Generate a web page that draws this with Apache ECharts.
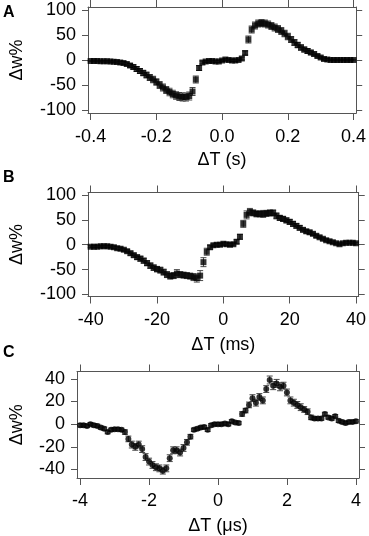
<!DOCTYPE html>
<html><head><meta charset="utf-8">
<script src="https://cdn.jsdelivr.net/npm/echarts@6/dist/echarts.min.js"></script>
<style>html,body{margin:0;padding:0;background:#fff}#c{width:369px;height:536px}</style>
</head><body><div id="c"></div>
<script>
// ---- Panel A (ΔT in s) ----
const xA = [-0.40,-0.39,-0.38,-0.37,-0.36,-0.35,-0.34,-0.33,-0.32,-0.31,
  -0.30,-0.29,-0.28,-0.27,-0.26,-0.25,-0.24,-0.23,-0.22,-0.21,
  -0.20,-0.19,-0.18,-0.17,-0.16,-0.15,-0.14,-0.13,-0.12,-0.11,
  -0.10,-0.09,-0.08,-0.07,-0.06,-0.05,-0.04,-0.03,-0.02,-0.01,
  0.00,0.01,0.02,0.03,0.04,0.05,0.06,0.07,0.08,0.09,
  0.10,0.11,0.12,0.13,0.14,0.15,0.16,0.17,0.18,0.19,
  0.20,0.21,0.22,0.23,0.24,0.25,0.26,0.27,0.28,0.29,
  0.30,0.31,0.32,0.33,0.34,0.35,0.36,0.37,0.38,0.39,0.40];
const yA = [-1,-1,-1,-1.5,-1.5,-1.5,-2,-2.5,-3,-4,
  -5,-7,-10,-13,-17,-21,-25,-29,-34,-38,
  -43,-49,-54,-59,-63,-67,-70,-72,-73,-73,
  -71,-62,-38,-15,-4,-2,-1,-1,-2,-2,
  0,2,1,0,0,1,4,15,42,62,
  70,74,75,74,72,69,66,63,59,54,
  48,42,36,31,26,22,19,16,13,9,
  6,3,2,1,1,1,1,1,1,1,1];
const eA = [1.5,1.5,1.5,1.5,1.5,1.5,1.5,2,2,2.5,
  3,3.5,4,4.5,5,5,5.5,6,6,6.5,
  6.5,7,7,7,7.5,7.5,7.5,8,8,8,
  8,8,7,5,3,2,2,2,2,2,
  2,2,2,2,2,2,3,4,7,7,
  7,7,7,7,7,7,7,7,7,6.5,
  6.5,6,6,5.5,5.5,5,5,4.5,4,3.5,
  3,2.5,2,1.5,1.5,1.5,1.5,1.5,1.5,1.5,1.5];
const ticksXA = [-0.4,-0.2,0,0.2,0.4];
const ticksYA = [-100,-50,0,50,100];

// ---- Panel B (ΔT in ms) ----
const xB = [-40,-39,-38,-37,-36,-35,-34,-33,-32,-31,
  -30,-29,-28,-27,-26,-25,-24,-23,-22,-21,
  -20,-19,-18,-17,-16,-15,-14,-13,-12,-11,
  -10,-9,-8,-7,-6,-5,-4,-3,-2,-1,
  0,1,2,3,4,5,6,7,8,9,
  10,11,12,13,14,15,16,17,18,19,
  20,21,22,23,24,25,26,27,28,29,
  30,31,32,33,34,35,36,37,38,39,40];
const yB = [-4,-4,-4,-3,-3,-3,-4,-5,-7,-8,
  -10,-13,-17,-21,-25,-28,-32,-37,-42,-46,
  -49,-51,-55,-60,-63,-62,-58,-60,-61,-62,
  -63,-65,-67,-62,-35,-14,-5,-1,0,0,
  2,1,0,1,6,16,42,60,66,64,
  62,62,62,63,64,64,58,54,52,49,
  46,42,38,34,30,27,25,22,18,15,
  12,9,7,5,3,1,3,4,4,4,3];
const eB = [2,2,2,2,2,2,2,2.5,3,3,
  3,3.5,4,4,4.5,5,5,5,5.5,5.5,
  5.5,6,6,6,6,6,8,6,6,6,
  6,7,8,10,9,7,4,3,3,3,
  3,3,3,3,4,5,7,8,7,6,
  6,6,7,6,6,6,6,5,5,5,
  5,5,4.5,4.5,4,4,4,3.5,3.5,3,
  3,3,2.5,2.5,2,2,2,2,2,2,2];
const ticksXB = [-40,-20,0,20,40];
const ticksYB = [-100,-50,0,50,100];

// ---- Panel C (ΔT in µs) ----
const xC = [-4.0,-3.9,-3.8,-3.7,-3.6,-3.5,-3.4,-3.3,-3.2,-3.1,
  -3.0,-2.9,-2.8,-2.7,-2.6,-2.5,-2.4,-2.3,-2.2,-2.1,
  -2.0,-1.9,-1.8,-1.7,-1.6,-1.5,-1.4,-1.3,-1.2,-1.1,
  -1.0,-0.9,-0.8,-0.7,-0.6,-0.5,-0.4,-0.3,-0.2,-0.1,
  0.0,0.1,0.2,0.3,0.4,0.5,0.6,0.7,0.8,0.9,
  1.0,1.1,1.2,1.3,1.4,1.5,1.6,1.7,1.8,1.9,
  2.0,2.1,2.2,2.3,2.4,2.5,2.6,2.7,2.8,2.9,
  3.0,3.1,3.2,3.3,3.4,3.5,3.6,3.7,3.8,3.9,4.0];
const yC = [-1,-1,-1.5,0,-1,-1.5,-3,-4,-7,-5,
  -4.5,-4.5,-5,-7,-13,-18,-20,-18,-22,-29,
  -33,-36,-38,-39,-41,-39,-30,-23,-23,-25,
  -21,-16,-11,-5,-4,-3,-2.5,-5,-1,0,
  0,0,0.5,0,2.5,1.5,1,9,12,17,
  23,19,24,21,31,39,34,36,33,34,
  28,21,19,17,15,13,11,6,5,5,
  5,9,6,5,7,3,2,1,2,2,2.5];
const eC = [1.5,1.5,1.5,1.5,1.5,1.5,1.5,1.5,1.5,1.5,
  1.5,1.5,1.5,2,2.5,3,3,3,3,3,
  3,3,3,3,3,3,3,3,3,3,
  3,2.5,2,1.5,1.5,1.5,1.5,1.5,1.5,1.5,
  1.5,1.5,1.5,1.5,1.5,1.5,1.5,2,2,2.5,
  3,3,3,3,3,3.5,3.5,3.5,3.5,3,
  3,3,3,3,3,2.5,2.5,2,1.5,1.5,
  1.5,1.5,1.5,1.5,1.5,1.5,1.5,1.5,1.5,1.5,1.5];
const ticksXC = [-4,-2,0,2,4];
const ticksYC = [-40,-20,0,20,40];

const FONT = 'Liberation Sans, Arial, sans-serif';
const AX = '#555';

const panels = [
  {x:xA,y:yA,e:eA,sym:'rect',ss:6,xt:ticksXA,yt:ticksYA,xr:[-0.408,0.408],yr:[-105,107],
   grid:{left:79,top:7,width:280,height:106},xname:'ΔT (s)',fmt:v=>v.toFixed(1),xm:15,xng:38,yng:62,letter:'A',ly:5},
  {x:xB,y:yB,e:eB,sym:'rect',ss:6,xt:ticksXB,yt:ticksYB,xr:[-40.8,40.8],yr:[-104,105],
   grid:{left:79,top:192.5,width:280,height:104},xname:'ΔT (ms)',fmt:v=>String(v),xm:15,xng:40,yng:62,letter:'B',ly:170},
  {x:xC,y:yC,e:eC,sym:'circle',ss:6,xt:ticksXC,yt:ticksYC,xr:[-4.09,4.09],yr:[-47.5,46.5],
   grid:{left:68,top:371.5,width:291,height:107},xname:'ΔT (μs)',fmt:v=>String(v),xm:14,xng:39,yng:51,letter:'C',ly:345}
];

function errRender(params, api) {
  const x = api.value(0), lo = api.value(1), hi = api.value(2);
  const a = api.coord([x, lo]), b = api.coord([x, hi]);
  const w = 3;
  const st = {stroke:'#333', lineWidth:0.9};
  return {type:'group', children:[
    {type:'line', shape:{x1:a[0],y1:a[1],x2:b[0],y2:b[1]}, style:st},
    {type:'line', shape:{x1:a[0]-w,y1:a[1],x2:a[0]+w,y2:a[1]}, style:st},
    {type:'line', shape:{x1:b[0]-w,y1:b[1],x2:b[0]+w,y2:b[1]}, style:st}
  ]};
}

const grid = [], xAxis = [], yAxis = [], series = [], graphic = [];
panels.forEach((p, i) => {
  grid.push(Object.assign({show:false}, p.grid));
  const lab = {fontSize:18, color:'#000', fontFamily:FONT};
  const xc = {type:'value', gridIndex:i, min:p.xr[0], max:p.xr[1], splitLine:{show:false},
    axisLine:{show:true, onZero:false, lineStyle:{color:AX, width:1}},
    axisTick:{show:true, inside:false, length:7, customValues:p.xt, lineStyle:{color:AX, width:1}}};
  xAxis.push(Object.assign({}, xc, {position:'bottom',
    axisLabel:Object.assign({show:true, customValues:p.xt, formatter:p.fmt, margin:p.xm}, lab),
    name:p.xname, nameLocation:'middle', nameGap:p.xng, nameTextStyle:{fontSize:18, color:'#000', fontFamily:FONT}}));
  xAxis.push(Object.assign({}, xc, {position:'top', axisLabel:{show:false}}));
  const yc = {type:'value', gridIndex:i, min:p.yr[0], max:p.yr[1], splitLine:{show:false},
    axisLine:{show:true, onZero:false, lineStyle:{color:AX, width:1}},
    axisTick:{show:true, inside:false, length:6, customValues:p.yt, lineStyle:{color:AX, width:1}}};
  yAxis.push(Object.assign({}, yc, {position:'left',
    axisLabel:Object.assign({show:true, customValues:p.yt, formatter:v=>String(v), margin:12}, lab),
    name:'Δw%', nameLocation:'middle', nameGap:p.yng, nameTextStyle:{fontSize:18, color:'#000', fontFamily:FONT}}));
  yAxis.push(Object.assign({}, yc, {position:'right', axisLabel:{show:false}}));
  series.push({type:'custom', xAxisIndex:2*i, yAxisIndex:2*i, renderItem:errRender, silent:true, z:1,
    encode:{x:0, y:[1,2]},
    data:p.x.map((x,k)=>[x, p.y[k]-p.e[k], p.y[k]+p.e[k]])});
  series.push({type:'scatter', xAxisIndex:2*i, yAxisIndex:2*i, symbol:p.sym, symbolSize:p.ss, silent:true, z:2,
    itemStyle:{color:'#000'}, data:p.x.map((x,k)=>[x, p.y[k]])});
  graphic.push({type:'text', left:3, top:p.ly, style:{text:p.letter, font:'bold 16px '+FONT, fill:'#000'}});
});

const chart = echarts.init(document.getElementById('c'), null, {renderer:'canvas'});
chart.setOption({animation:false, backgroundColor:'#fff', grid, xAxis, yAxis, series, graphic});
</script></body></html>
